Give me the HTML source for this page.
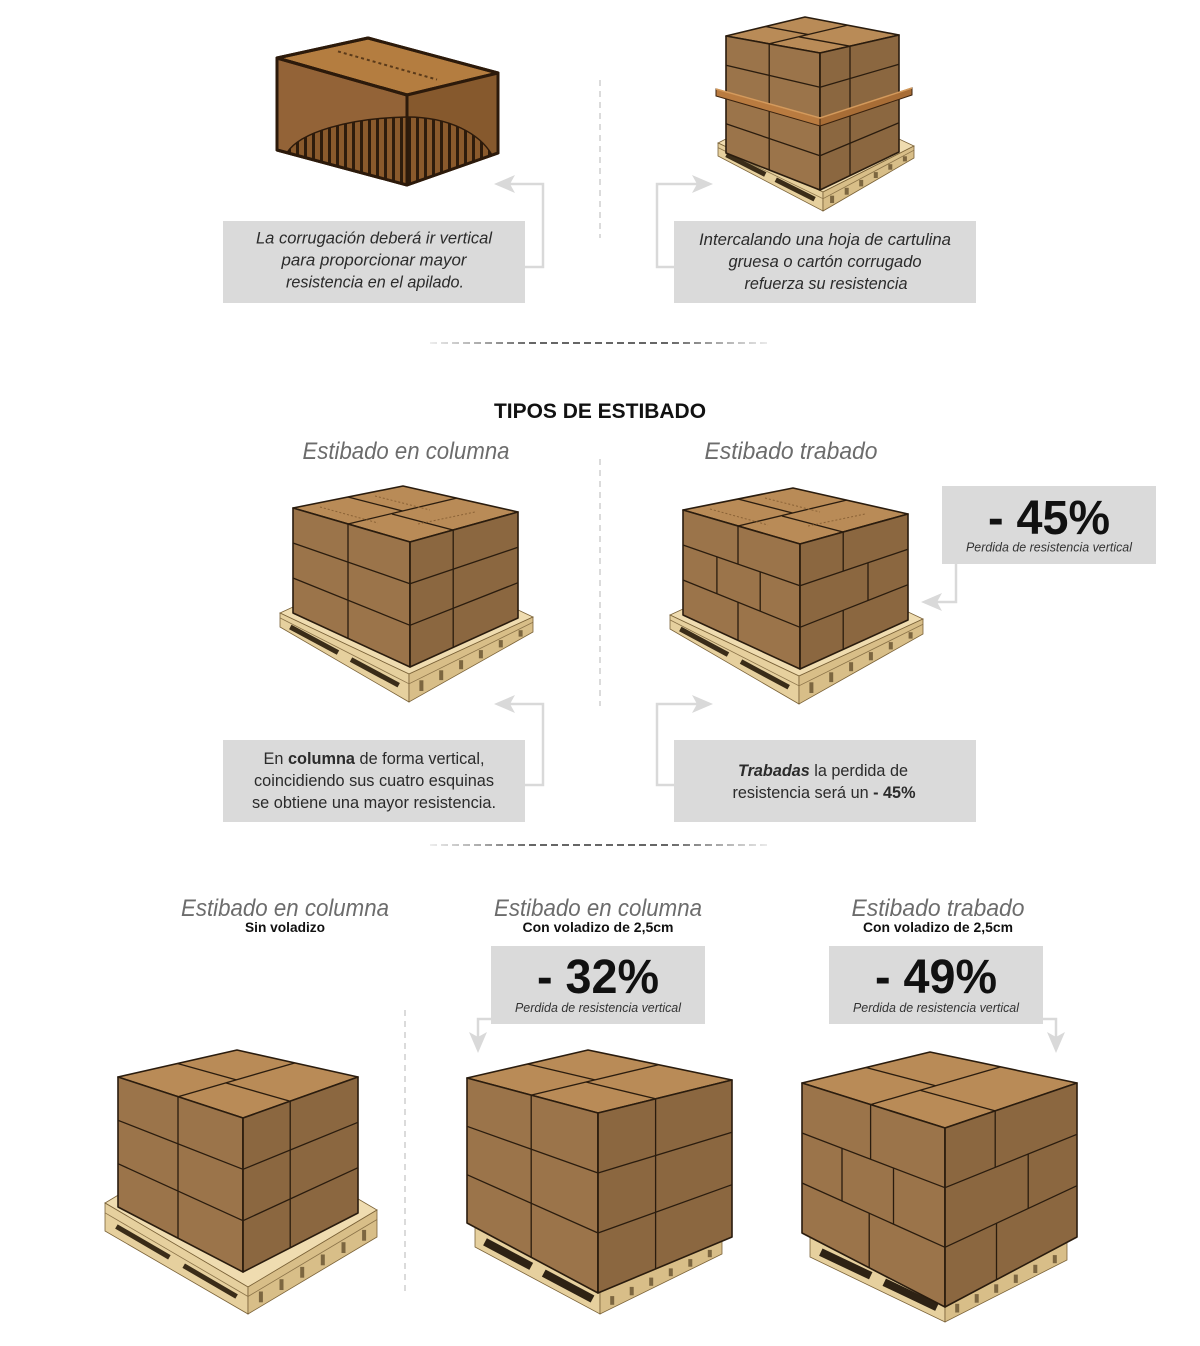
<!DOCTYPE html>
<html>
<head>
<meta charset="utf-8">
<style>
html,body{margin:0;padding:0;background:#fff;}
svg{display:block;}
.pt{fill:#efdcb0;stroke:#7a6238;stroke-width:.8;}
.pl{fill:#e6d09e;stroke:#7a6238;stroke-width:.8;}
.pr{fill:#d8be88;stroke:#7a6238;stroke-width:.8;}
.pline{stroke:#8a7248;stroke-width:.8;fill:none;}
.slot{stroke:#3a2c18;stroke-width:5;}
.slotb{stroke:#2e2214;stroke-width:8;}
.gap{stroke:#7c6640;stroke-width:4;}
.bt{fill:#b98b57;stroke:#2a1c0e;stroke-width:1.6;stroke-linejoin:round;}
.bl{fill:#9b744a;stroke:#2a1c0e;stroke-width:1.6;stroke-linejoin:round;}
.br{fill:#8b6740;stroke:#2a1c0e;stroke-width:1.6;stroke-linejoin:round;}
.ln{stroke:#2a1c0e;stroke-width:1.3;fill:none;}
.tape{stroke:#8a6236;stroke-width:1;stroke-dasharray:2 2;fill:none;}
.it{font-family:"Liberation Sans",sans-serif;font-style:italic;font-size:16.5px;fill:#2b2b2b;}
.up{font-family:"Liberation Sans",sans-serif;font-size:16.5px;fill:#2b2b2b;}
.hd{font-family:"Liberation Sans",sans-serif;font-style:italic;font-size:24px;fill:#6c6c6c;}
.sub{font-family:"Liberation Sans",sans-serif;font-weight:bold;font-size:14px;fill:#111;}
.big{font-family:"Liberation Sans",sans-serif;font-weight:bold;font-size:48px;fill:#111;}
.sm{font-family:"Liberation Sans",sans-serif;font-style:italic;font-size:13px;fill:#333;}
.ttl{font-family:"Liberation Sans",sans-serif;font-weight:bold;font-size:21px;fill:#111;}
.arr{stroke:#d9d9d9;stroke-width:2.5;fill:none;}
.ah{fill:#d9d9d9;}
.vd{stroke:#cfcfcf;stroke-width:1.5;stroke-dasharray:6 5;}
.box{fill:#dadada;}
</style>
</head>
<body>
<svg width="1200" height="1346" viewBox="0 0 1200 1346" xmlns="http://www.w3.org/2000/svg">
<defs>
  <linearGradient id="hg1" gradientUnits="userSpaceOnUse" x1="430" y1="343" x2="770" y2="343">
    <stop offset="0" stop-color="#e8e8e8"/>
    <stop offset="0.3" stop-color="#333"/>
    <stop offset="0.7" stop-color="#333"/>
    <stop offset="1" stop-color="#e8e8e8"/>
  </linearGradient>
  <linearGradient id="hg2" gradientUnits="userSpaceOnUse" x1="430" y1="845" x2="770" y2="845">
    <stop offset="0" stop-color="#e8e8e8"/>
    <stop offset="0.3" stop-color="#333"/>
    <stop offset="0.7" stop-color="#333"/>
    <stop offset="1" stop-color="#e8e8e8"/>
  </linearGradient>
  <pattern id="corr" patternUnits="userSpaceOnUse" width="8" height="10">
    <rect width="8" height="10" fill="#8a5a2c"/>
    <rect width="3" height="10" fill="#2e1c0c"/>
  </pattern>
</defs>

<!-- ================= FIG A: corrugated box ================= -->
<g>
  <polygon points="407,95 277,58 368,38 498,73" fill="#b47d40" stroke="#2c1a0b" stroke-width="3" stroke-linejoin="round"/>
  <polygon points="407,95 277,58 277,150 407,185" fill="#936337" stroke="#2c1a0b" stroke-width="3" stroke-linejoin="round"/>
  <polygon points="407,95 498,73 498,153 407,185" fill="#86592d" stroke="#2c1a0b" stroke-width="3" stroke-linejoin="round"/>
  <path d="M287,152.7 C300,132 350,118 407,117 C450,117 480,134 492,155 L407,185 Z" fill="url(#corr)" stroke="#2c1a0b" stroke-width="1.5"/>
  <line x1="338" y1="51.4" x2="437" y2="79.6" stroke="#5a3a1a" stroke-width="2" stroke-dasharray="3 3"/>
  <line x1="407" y1="95" x2="407" y2="185" stroke="#2c1a0b" stroke-width="3"/>
  <polygon points="407,95 277,58 277,150 407,185 498,153 498,73 368,38 277,58" fill="none" stroke="#2c1a0b" stroke-width="3" stroke-linejoin="round"/>
</g>

<!-- ================= FIG B: interleaved sheet ================= -->
<g>
  <polygon class="pt" points="718,143 809,97 914,146 823,192"/>
  <polygon class="pl" points="823,192 718,143 718,156 823,211"/>
  <polygon class="pr" points="823,192 914,146 914,158 823,211"/>
  <line class="pline" x1="823" y1="198.7" x2="718" y2="147.6"/>
  <line class="pline" x1="823" y1="198.7" x2="914" y2="150.2"/>
  <line class="slot" x1="814.6" y1="199.2" x2="775.75" y2="179.7"/>
  <line class="slot" x1="765.25" y1="174.5" x2="726.4" y2="154.8"/>
  <g class="gap">
    <line x1="832.1" y1="195.7" x2="832.1" y2="203"/>
    <line x1="846.7" y1="187.8" x2="846.7" y2="194.7"/>
    <line x1="861.2" y1="179.9" x2="861.2" y2="186.4"/>
    <line x1="875.8" y1="172.1" x2="875.8" y2="178"/>
    <line x1="890.3" y1="164.2" x2="890.3" y2="169.7"/>
    <line x1="904.9" y1="156.3" x2="904.9" y2="161.4"/>
  </g>
  <polygon class="bt" points="820,53 726,36 805,17 899,35"/>
  <polygon class="bl" points="820,53 726,36 726,153 820,190"/>
  <polygon class="br" points="820,53 899,35 899,152 820,190"/>
  <g class="ln">
    <line x1="820" y1="87.25" x2="726" y2="65.25"/>
    <line x1="820" y1="155.75" x2="726" y2="123.75"/>
    <line x1="820" y1="87.25" x2="899" y2="64.25"/>
    <line x1="820" y1="155.75" x2="899" y2="122.75"/>
    <line x1="769.2" y1="43.8" x2="769.2" y2="170"/>
    <line x1="850" y1="46.2" x2="850" y2="175.6"/>
    <line x1="769.2" y1="43.8" x2="847.2" y2="25.3"/>
    <line x1="850" y1="46.2" x2="798.8" y2="36.8"/>
    <line x1="808.2" y1="34.55" x2="765.5" y2="26.5"/>
    <line x1="820" y1="53" x2="820" y2="190"/>
  </g>
  <polygon points="716,89 820,118 820,126 716,96" fill="#b97b40" stroke="#3a220e" stroke-width="1"/>
  <polygon points="820,118 912,88 912,95 820,126" fill="#a86d36" stroke="#3a220e" stroke-width="1"/>
  <polyline points="716,89 820,118 912,88" fill="none" stroke="#d49a5c" stroke-width="1.5"/>
</g>

<!-- ================= FIG C: column (mid) ================= -->
<g id="palC">
  <polygon class="pt" points="280,613 404,556 533,617 409,674"/>
  <polygon class="pl" points="409,674 280,613 280,627 409,702"/>
  <polygon class="pr" points="409,674 533,617 533,632 409,702"/>
  <line class="pline" x1="409" y1="683.8" x2="280" y2="617.9"/>
  <line class="pline" x1="409" y1="683.8" x2="533" y2="622.25"/>
  <line class="slot" x1="398.7" y1="685.2" x2="351" y2="659.6"/>
  <line class="slot" x1="338" y1="652.6" x2="290.3" y2="627"/>
  <g class="gap">
    <line x1="421.4" y1="680.3" x2="421.4" y2="691"/>
    <line x1="441.2" y1="670.3" x2="441.2" y2="680.1"/>
    <line x1="461.1" y1="660.2" x2="461.1" y2="669.2"/>
    <line x1="480.9" y1="650.1" x2="480.9" y2="658.3"/>
    <line x1="500.8" y1="640.1" x2="500.8" y2="647.4"/>
    <line x1="520.6" y1="630.2" x2="520.6" y2="636.6"/>
  </g>
</g>
<g id="boxC">
  <polygon class="bt" points="410,542 293,508 403,486 518,512"/>
  <polygon class="bl" points="410,542 293,508 293,613 410,667"/>
  <polygon class="br" points="410,542 518,512 518,618 410,667"/>
  <g class="ln">
    <line x1="410" y1="583.7" x2="293" y2="543"/>
    <line x1="410" y1="625.3" x2="293" y2="578"/>
    <line x1="410" y1="583.7" x2="518" y2="547.3"/>
    <line x1="410" y1="625.3" x2="518" y2="582.7"/>
    <line x1="348" y1="524" x2="457" y2="498"/>
    <line x1="453" y1="530" x2="392" y2="514"/>
    <line x1="402.5" y1="511" x2="348" y2="497"/>
    <line x1="410" y1="542" x2="410" y2="667"/>
  </g>
  <g class="tape">
    <line x1="320" y1="507" x2="378" y2="523"/>
    <line x1="375" y1="496" x2="430" y2="510"/>
    <line x1="418" y1="524" x2="475" y2="512"/>
  </g>
</g>
<g class="ln">
  <line x1="348" y1="524" x2="348" y2="638.4"/>
  <line x1="453.2" y1="530" x2="453.2" y2="647.4"/>
</g>

<!-- ================= FIG D: trabado (mid) ================= -->
<g transform="translate(390,2)">
  <use href="#palC"/>
  <use href="#boxC"/>
  <g class="ln">
    <line x1="348" y1="524" x2="348" y2="562.1"/>
    <line x1="370.2" y1="569.9" x2="370.2" y2="609.1"/>
    <line x1="326.9" y1="554.8" x2="326.9" y2="591.7"/>
    <line x1="348" y1="600.2" x2="348" y2="638.4"/>
    <line x1="453.2" y1="530" x2="453.2" y2="569.1"/>
    <line x1="478" y1="560.8" x2="478" y2="598.5"/>
    <line x1="453.2" y1="608.3" x2="453.2" y2="647.4"/>
  </g>
</g>

<!-- ================= FIG E: column sin voladizo ================= -->
<g>
  <polygon class="pt" points="105,1203 234,1126 377,1210 248,1287"/>
  <polygon class="pl" points="248,1287 105,1203 105,1231 248,1314"/>
  <polygon class="pr" points="248,1287 377,1210 377,1237 248,1314"/>
  <line class="pline" x1="248" y1="1296.5" x2="105" y2="1212.8"/>
  <line class="pline" x1="248" y1="1296.5" x2="377" y2="1219.5"/>
  <line class="slot" stroke-width="6" x1="236.6" y1="1296.5" x2="183.7" y2="1265.7"/>
  <line class="slot" stroke-width="6" x1="169.4" y1="1257.3" x2="116.4" y2="1226.5"/>
  <g class="gap">
    <line x1="260.9" y1="1291.5" x2="260.9" y2="1302.3"/>
    <line x1="281.5" y1="1279.2" x2="281.5" y2="1290"/>
    <line x1="302.2" y1="1266.9" x2="302.2" y2="1277.7"/>
    <line x1="322.8" y1="1254.5" x2="322.8" y2="1265.3"/>
    <line x1="343.5" y1="1242.2" x2="343.5" y2="1253"/>
    <line x1="364.1" y1="1229.9" x2="364.1" y2="1240.7"/>
  </g>
  <polygon class="bt" points="243,1118 118,1077 237,1050 358,1077"/>
  <polygon class="bl" points="243,1118 118,1077 118,1207 243,1272"/>
  <polygon class="br" points="243,1118 358,1077 358,1213 243,1272"/>
  <g class="ln">
    <line x1="243" y1="1169.3" x2="118" y2="1120.3"/>
    <line x1="243" y1="1220.7" x2="118" y2="1163.7"/>
    <line x1="243" y1="1169.3" x2="358" y2="1122.3"/>
    <line x1="243" y1="1220.7" x2="358" y2="1167.7"/>
    <line x1="178" y1="1096.7" x2="178" y2="1238.2"/>
    <line x1="290.2" y1="1101.2" x2="290.2" y2="1248"/>
    <line x1="178" y1="1096.7" x2="294.6" y2="1063"/>
    <line x1="290.2" y1="1101.2" x2="225.8" y2="1082.9"/>
    <line x1="236.3" y1="1079.9" x2="177.5" y2="1063.5"/>
    <line x1="243" y1="1118" x2="243" y2="1272"/>
  </g>
</g>

<!-- ================= FIG F: column con voladizo ================= -->
<g>
  <polygon class="pt" points="475,1226 597,1170 722,1236 600,1292"/>
  <polygon class="pl" points="600,1292 475,1226 475,1247 600,1314"/>
  <polygon class="pr" points="600,1292 722,1236 722,1254 600,1314"/>
  <line class="slotb" x1="592.5" y1="1299" x2="543.75" y2="1273.1"/>
  <line class="slotb" x1="531.25" y1="1266.4" x2="485" y2="1241.8"/>
  <g class="gap">
    <line x1="612.2" y1="1296.1" x2="612.2" y2="1304.8"/>
    <line x1="631.7" y1="1286.9" x2="631.7" y2="1295.3"/>
    <line x1="651.2" y1="1277.6" x2="651.2" y2="1285.8"/>
    <line x1="670.8" y1="1268.4" x2="670.8" y2="1276.2"/>
    <line x1="690.3" y1="1259.1" x2="690.3" y2="1266.7"/>
    <line x1="709.8" y1="1249.9" x2="709.8" y2="1257.2"/>
  </g>
  <polygon class="bt" points="598,1113 467,1078 588,1050 732,1080"/>
  <polygon class="bl" points="598,1113 467,1078 467,1223 598,1293"/>
  <polygon class="br" points="598,1113 732,1080 732,1237 598,1293"/>
  <g class="ln">
    <line x1="598" y1="1173" x2="467" y2="1126.3"/>
    <line x1="598" y1="1233" x2="467" y2="1174.7"/>
    <line x1="598" y1="1173" x2="732" y2="1132.3"/>
    <line x1="598" y1="1233" x2="732" y2="1184.7"/>
    <line x1="531.2" y1="1095.1" x2="531.2" y2="1257.3"/>
    <line x1="655.6" y1="1098.8" x2="655.6" y2="1268.9"/>
    <line x1="531.2" y1="1095.1" x2="658.6" y2="1064.7"/>
    <line x1="655.6" y1="1098.8" x2="586" y2="1082"/>
    <line x1="594.9" y1="1079.9" x2="527.5" y2="1064"/>
    <line x1="598" y1="1113" x2="598" y2="1293"/>
  </g>
</g>

<!-- ================= FIG G: trabado con voladizo ================= -->
<g>
  <polygon class="pt" points="810,1237 932,1177 1067,1240 945,1300"/>
  <polygon class="pl" points="945,1300 810,1237 810,1257 945,1322"/>
  <polygon class="pr" points="945,1300 1067,1240 1067,1260 945,1322"/>
  <line class="slotb" x1="936.9" y1="1307.2" x2="884.25" y2="1282.2"/>
  <line class="slotb" x1="870.75" y1="1275.8" x2="820.8" y2="1252.1"/>
  <g class="gap">
    <line x1="957.2" y1="1303.8" x2="957.2" y2="1312.5"/>
    <line x1="976.7" y1="1294.1" x2="976.7" y2="1302.7"/>
    <line x1="996.2" y1="1284.3" x2="996.2" y2="1292.8"/>
    <line x1="1015.8" y1="1274.6" x2="1015.8" y2="1282.9"/>
    <line x1="1035.3" y1="1264.8" x2="1035.3" y2="1273"/>
    <line x1="1054.8" y1="1255.1" x2="1054.8" y2="1263.2"/>
  </g>
  <polygon class="bt" points="945,1128 802,1083 930,1052 1077,1083"/>
  <polygon class="bl" points="945,1128 802,1083 802,1233 945,1307"/>
  <polygon class="br" points="945,1128 1077,1083 1077,1237 945,1307"/>
  <g class="ln">
    <line x1="945" y1="1187.7" x2="802" y2="1133"/>
    <line x1="945" y1="1247.3" x2="802" y2="1183"/>
    <line x1="945" y1="1187.7" x2="1077" y2="1134.3"/>
    <line x1="945" y1="1247.3" x2="1077" y2="1185.7"/>
    <line x1="870.6" y1="1104.6" x2="870.6" y2="1159.3"/>
    <line x1="893.5" y1="1168" x2="893.5" y2="1224.2"/>
    <line x1="842" y1="1148.3" x2="842" y2="1201"/>
    <line x1="869.2" y1="1213.2" x2="869.2" y2="1267.8"/>
    <line x1="995.2" y1="1110.9" x2="995.2" y2="1167.4"/>
    <line x1="1028.2" y1="1154.1" x2="1028.2" y2="1208.5"/>
    <line x1="996.5" y1="1223.3" x2="996.5" y2="1279.7"/>
    <line x1="870.6" y1="1104.6" x2="1000.6" y2="1066.9"/>
    <line x1="995.2" y1="1110.9" x2="920" y2="1090.3"/>
    <line x1="935.6" y1="1085.8" x2="866" y2="1067.5"/>
    <line x1="945" y1="1128" x2="945" y2="1307"/>
  </g>
</g>

<!-- ================= separators ================= -->
<line class="vd" x1="600" y1="80" x2="600" y2="238"/>
<line class="vd" x1="600" y1="459" x2="600" y2="706"/>
<line class="vd" x1="405" y1="1010" x2="405" y2="1296"/>
<line x1="430" y1="343" x2="770" y2="343" stroke="url(#hg1)" stroke-width="1.6" stroke-dasharray="7 4"/>
<line x1="430" y1="845" x2="770" y2="845" stroke="url(#hg2)" stroke-width="1.6" stroke-dasharray="7 4"/>

<!-- ================= gray boxes ================= -->
<rect class="box" x="223" y="221" width="302" height="82"/>
<rect class="box" x="674" y="221" width="302" height="82"/>
<rect class="box" x="942" y="486" width="214" height="78"/>
<rect class="box" x="223" y="740" width="302" height="82"/>
<rect class="box" x="674" y="740" width="302" height="82"/>
<rect class="box" x="491" y="946" width="214" height="78"/>
<rect class="box" x="829" y="946" width="214" height="78"/>

<!-- ================= arrows ================= -->
<path class="arr" d="M525,267 H543 V184 H508"/>
<polygon class="ah" points="494,184 515,175 510,184 515,193"/>
<path class="arr" d="M674,267 H657 V184 H700"/>
<polygon class="ah" points="713,184 692,175 697,184 692,193"/>
<path class="arr" d="M525,785 H543 V704 H508"/>
<polygon class="ah" points="494,704 515,695 510,704 515,713"/>
<path class="arr" d="M674,785 H657 V704 H700"/>
<polygon class="ah" points="713,704 692,695 697,704 692,713"/>
<path class="arr" d="M956,564 V602 H935"/>
<polygon class="ah" points="921,602 942,593 937,602 942,611"/>
<path class="arr" d="M491,1019 H478 V1040"/>
<polygon class="ah" points="478,1053 469,1032 478,1037 487,1032"/>
<path class="arr" d="M1043,1019 H1056 V1040"/>
<polygon class="ah" points="1056,1053 1047,1032 1056,1037 1065,1032"/>

<!-- ================= text ================= -->
<text class="it" x="374" y="243.5" text-anchor="middle" textLength="236" lengthAdjust="spacingAndGlyphs">La corrugación deberá ir vertical</text>
<text class="it" x="374" y="265.5" text-anchor="middle" textLength="185" lengthAdjust="spacingAndGlyphs">para proporcionar mayor</text>
<text class="it" x="375" y="287.5" text-anchor="middle" textLength="178" lengthAdjust="spacingAndGlyphs">resistencia en el apilado.</text>

<text class="it" x="825" y="245" text-anchor="middle" textLength="252" lengthAdjust="spacingAndGlyphs">Intercalando una hoja de cartulina</text>
<text class="it" x="825" y="267" text-anchor="middle" textLength="193" lengthAdjust="spacingAndGlyphs">gruesa o cartón corrugado</text>
<text class="it" x="826" y="289" text-anchor="middle" textLength="163" lengthAdjust="spacingAndGlyphs">refuerza su resistencia</text>

<text class="ttl" x="600" y="418" text-anchor="middle" textLength="212" lengthAdjust="spacingAndGlyphs">TIPOS DE ESTIBADO</text>

<text class="hd" x="406" y="459" text-anchor="middle" textLength="207" lengthAdjust="spacingAndGlyphs">Estibado en columna</text>
<text class="hd" x="791" y="459" text-anchor="middle" textLength="173" lengthAdjust="spacingAndGlyphs">Estibado trabado</text>

<text class="big" x="1049" y="534" text-anchor="middle" textLength="122" lengthAdjust="spacingAndGlyphs">- 45%</text>
<text class="sm" x="1049" y="551.5" text-anchor="middle" textLength="166" lengthAdjust="spacingAndGlyphs">Perdida de resistencia vertical</text>

<text class="up" x="374" y="764" text-anchor="middle" textLength="221" lengthAdjust="spacingAndGlyphs">En <tspan font-weight="bold">columna</tspan> de forma vertical,</text>
<text class="up" x="374" y="786" text-anchor="middle" textLength="240" lengthAdjust="spacingAndGlyphs">coincidiendo sus cuatro esquinas</text>
<text class="up" x="374" y="808" text-anchor="middle" textLength="244" lengthAdjust="spacingAndGlyphs">se obtiene una mayor resistencia.</text>

<text class="up" x="823" y="776" text-anchor="middle" textLength="170" lengthAdjust="spacingAndGlyphs"><tspan font-weight="bold" font-style="italic">Trabadas</tspan> la perdida de</text>
<text class="up" x="824" y="798" text-anchor="middle" textLength="183" lengthAdjust="spacingAndGlyphs">resistencia será un <tspan font-weight="bold">- 45%</tspan></text>

<text class="hd" x="285" y="916" text-anchor="middle" textLength="208" lengthAdjust="spacingAndGlyphs">Estibado en columna</text>
<text class="sub" x="285" y="932" text-anchor="middle" textLength="80" lengthAdjust="spacingAndGlyphs">Sin voladizo</text>

<text class="hd" x="598" y="916" text-anchor="middle" textLength="208" lengthAdjust="spacingAndGlyphs">Estibado en columna</text>
<text class="sub" x="598" y="932" text-anchor="middle" textLength="151" lengthAdjust="spacingAndGlyphs">Con voladizo de 2,5cm</text>

<text class="hd" x="938" y="916" text-anchor="middle" textLength="173" lengthAdjust="spacingAndGlyphs">Estibado trabado</text>
<text class="sub" x="938" y="932" text-anchor="middle" textLength="150" lengthAdjust="spacingAndGlyphs">Con voladizo de 2,5cm</text>

<text class="big" x="598" y="993" text-anchor="middle" textLength="122" lengthAdjust="spacingAndGlyphs">- 32%</text>
<text class="sm" x="598" y="1012" text-anchor="middle" textLength="166" lengthAdjust="spacingAndGlyphs">Perdida de resistencia vertical</text>

<text class="big" x="936" y="993" text-anchor="middle" textLength="122" lengthAdjust="spacingAndGlyphs">- 49%</text>
<text class="sm" x="936" y="1012" text-anchor="middle" textLength="166" lengthAdjust="spacingAndGlyphs">Perdida de resistencia vertical</text>
</svg>
</body>
</html>
